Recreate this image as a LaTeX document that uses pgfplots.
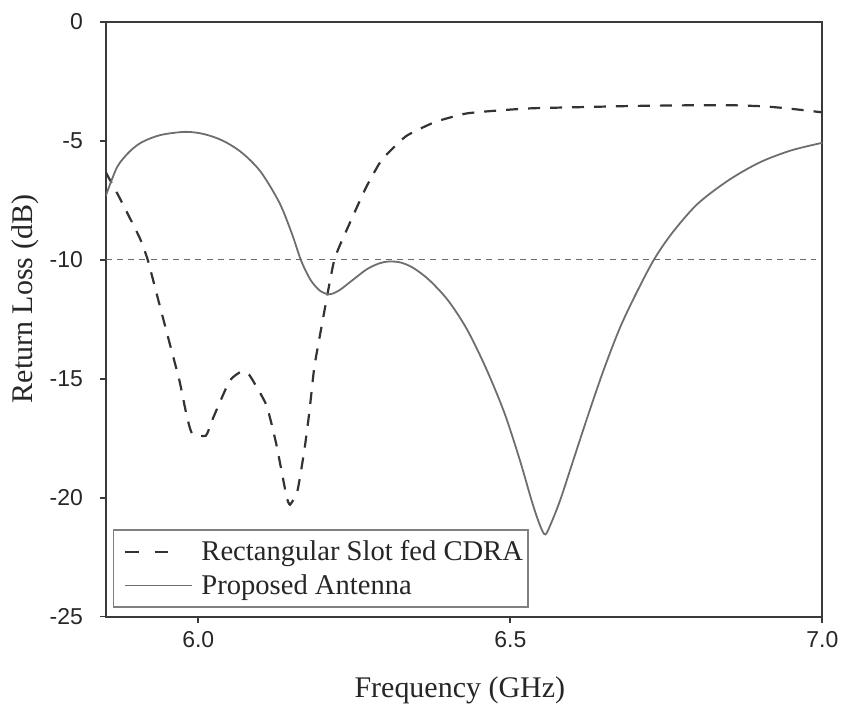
\documentclass[border=0pt]{standalone}
\usepackage{fontspec}
\setmainfont{Liberation Serif}
\newfontfamily\arialfont{Liberation Sans}
\usepackage{pgfplots}
\pgfplotsset{compat=1.18}
\definecolor{axisgray}{HTML}{3A3A3A}
\definecolor{solidgray}{HTML}{6E6E6E}
\definecolor{dashdark}{HTML}{333333}
\definecolor{refgray}{HTML}{6A6A6A}
\begin{document}
\begin{tikzpicture}
\begin{axis}[
  scale only axis,
  width=358.5pt, height=297.5pt,
  xmin=5.852, xmax=7.0,
  ymin=-25, ymax=0,
  xtick={6.0,6.5,7.0},
  xticklabels={6.0,6.5,7.0},
  ytick={-25,-20,-15,-10,-5,0},
  yticklabels={-25,-20,-15,-10,-5,0},
  xtick pos=bottom, ytick pos=left,
  tick align=outside,
  major tick length=3pt,
  every tick/.style={axisgray, line width=0.9pt},
  axis line style={axisgray, line width=1pt},
  ticklabel style={font=\arialfont\fontsize{11.5}{13}\selectfont, text=black!85},
  yticklabel style={xshift=-5pt},
  xticklabel style={yshift=-1pt},
  xlabel={Frequency (GHz)},
  ylabel={Return Loss (dB)},
  label style={font=\fontsize{15}{17}\selectfont, text=black!85},
  xlabel style={at={(axis description cs:0.494,-0.1250)}, anchor=center},
  ylabel style={at={(axis description cs:-0.112,0.534)}, anchor=center},
  legend style={at={(axis description cs:0.0098,0.015)}, anchor=south west,
    draw=gray, line width=0.6pt, font=\fontsize{14.3}{17}\selectfont,
    inner xsep=0.5pt, inner ysep=3pt, row sep=1.5pt, text=black!85},
  legend cell align=left,
  legend image code/.code={\path[draw=none,fill=none] (0pt,-1pt) rectangle (41.5pt,1pt); \draw[#1] (5pt,0pt) -- (39pt,0pt);},
]
\addplot[dashdark, line width=1.1pt, dash pattern=on 6pt off 5pt, smooth, tension=0.3,
  legend image post style={dash pattern=on 7pt off 8pt on 7pt off 20pt}] coordinates {
(5.852,-6.33) (5.874,-7.4) (5.906,-9.07) (5.919,-10.0) (5.935,-11.6)
(5.954,-13.5) (5.970,-15.1) (5.981,-16.5) (5.990,-17.3) (6.012,-17.4)
(6.023,-16.7) (6.050,-15.1) (6.069,-14.7) (6.082,-14.85) (6.109,-16.1)
(6.125,-17.75) (6.141,-19.9) (6.147,-20.3) (6.159,-19.7) (6.170,-18.0)
(6.178,-16.4) (6.186,-14.5) (6.199,-12.6) (6.218,-10.0) (6.242,-8.5)
(6.269,-6.95) (6.294,-5.8) (6.333,-4.8) (6.380,-4.2) (6.429,-3.85)
(6.481,-3.72) (6.534,-3.63) (6.614,-3.58) (6.700,-3.53) (6.801,-3.5)
(6.854,-3.5) (6.908,-3.55) (6.950,-3.65) (7.000,-3.8)
};
\addlegendentry{Rectangular Slot fed CDRA}
\addplot[solidgray, line width=0.9pt, smooth, tension=0.5] coordinates {
(5.852,-7.3) (5.870,-6.1) (5.890,-5.45) (5.910,-5.05) (5.940,-4.75)
(5.980,-4.62) (6.010,-4.72) (6.040,-5.0) (6.070,-5.5) (6.100,-6.3)
(6.130,-7.6) (6.150,-8.9) (6.165,-10.05) (6.180,-10.85) (6.195,-11.3)
(6.210,-11.45) (6.225,-11.3) (6.245,-10.9) (6.270,-10.4) (6.290,-10.15)
(6.306,-10.07) (6.325,-10.12) (6.345,-10.35) (6.370,-10.85) (6.400,-11.7)
(6.430,-12.9) (6.460,-14.5) (6.490,-16.4) (6.515,-18.4) (6.535,-20.2)
(6.548,-21.2) (6.556,-21.55) (6.565,-21.1) (6.580,-20.1) (6.600,-18.5)
(6.625,-16.5) (6.650,-14.6) (6.675,-12.9) (6.700,-11.5) (6.730,-10.0)
(6.760,-8.85) (6.800,-7.65) (6.850,-6.65) (6.900,-5.9) (6.950,-5.4)
(7.000,-5.08)
};
\addlegendentry{Proposed Antenna}
\addplot[refgray, line width=0.7pt, dash pattern=on 3pt off 2.6pt, forget plot] coordinates {(5.852,-10) (6.99,-10)};
\end{axis}
\path ([shift={(-53pt,-45.5pt)}]current axis.south west) rectangle ([shift={(11pt,11pt)}]current axis.north east);
\end{tikzpicture}
\end{document}
